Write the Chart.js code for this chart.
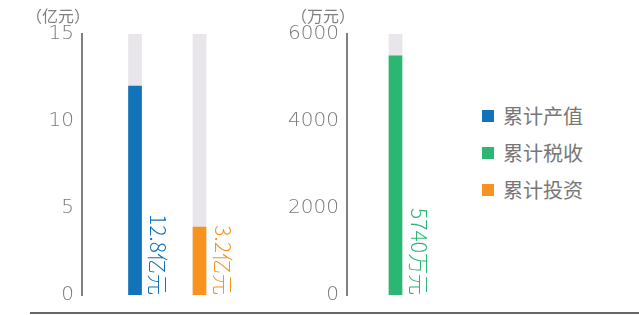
<!DOCTYPE html>
<html>
<head>
<meta charset="utf-8">
<script src="https://cdn.jsdelivr.net/npm/chart.js@4.4.1/dist/chart.umd.min.js"></script>
<style>
body { margin:0; width:639px; height:315px; background:#fff; position:relative; overflow:hidden; font-family:"Noto Sans CJK SC", sans-serif; }
canvas { position:absolute; top:0; }
#left { left:0; }
#right { left:265px; }
#legend { position:absolute; left:482px; top:97px; }
.item { height:37px; display:flex; align-items:center; font-size:20px; color:#777; }
.box { width:12px; height:12px; margin-right:9px; }
#baseline { position:absolute; left:30px; right:0; top:312px; height:2px; background:#666; }
</style>
</head>
<body>
<canvas id="left" width="260" height="315"></canvas>
<canvas id="right" width="200" height="315"></canvas>
<div id="legend"></div>
<div id="baseline"></div>
<script>
// left panel (亿元)
const leftCategories = ['累计产值', '累计投资'];
const leftValues = [12, 3.9];
const leftFull = [15, 15];
const leftLabels = ['12.8亿元', '3.2亿元'];
const leftTicks = [0, 5, 10, 15];

// right panel (万元)
const rightCategories = ['累计税收'];
const rightValues = [5500];
const rightFull = [6000];
const rightLabels = ['5740万元'];
const rightTicks = [0, 2000, 4000, 6000];

const legendNames = ['累计产值', '累计税收', '累计投资'];

const colorOf = { '累计产值': '#1272ba', '累计税收': '#2bb673', '累计投资': '#f7931e' };
const trackColor = '#e8e6ea';
const axisGrey = '#808080';

// rotated value text next to each bar
const barLabels = {
    id: 'barLabels',
    afterDatasetsDraw(chart, args, opts) {
        const ctx = chart.ctx;
        chart.getDatasetMeta(0).data.forEach((bar, i) => {
            ctx.save();
            ctx.translate(bar.x + bar.width / 2 + opts.gap, bar.base);
            ctx.rotate(Math.PI / 2);
            ctx.textAlign = 'right';
            ctx.textBaseline = 'bottom';
            ctx.fillStyle = opts.colors[i];
            ctx.font = '300 21px "Noto Sans CJK SC"';
            ctx.fillText(opts.labels[i], 0, 0);
            ctx.restore();
        });
    }
};

// unit text above the y axis
const unitLabel = {
    id: 'unitLabel',
    afterDraw(chart, args, opts) {
        const ctx = chart.ctx;
        ctx.save();
        ctx.font = '16px "Noto Sans CJK SC"';
        ctx.fillStyle = axisGrey;
        ctx.textAlign = 'right';
        ctx.textBaseline = 'middle';
        ctx.fillText(opts.text, chart.chartArea.left + 8, 16);
        ctx.restore();
    }
};

function makePanel(id, cats, values, full, labels, ticks, unit, xmin, xmax) {
    const colors = cats.map(c => colorOf[c]);
    return new Chart(document.getElementById(id), {
        type: 'bar',
        data: {
            datasets: [{
                data: values.map((v, i) => ({ x: i + 1, y: v })),
                backgroundColor: colors,
                barThickness: 13,
                grouped: false
            }, {
                data: full.map((v, i) => ({ x: i + 1, y: v })),
                backgroundColor: trackColor,
                barThickness: 13,
                grouped: false
            }]
        },
        options: {
            responsive: false,
            animation: false,
            layout: { padding: { top: 34, bottom: 17, left: 0, right: 0 } },
            plugins: {
                legend: { display: false },
                tooltip: { enabled: false },
                barLabels: { labels: labels, colors: colors, gap: 6 },
                unitLabel: { text: unit }
            },
            scales: {
                x: { type: 'linear', min: xmin, max: xmax, offset: false, display: false },
                y: {
                    min: ticks[0],
                    max: ticks[ticks.length - 1],
                    afterBuildTicks: s => { s.ticks = ticks.map(v => ({ value: v })); },
                    afterFit: s => { s.width = 82; },
                    grid: { display: false, drawTicks: false },
                    border: { display: true, color: axisGrey, width: 2 },
                    ticks: {
                        padding: 8,
                        color: '#7a7a7a',
                        callback: v => String(v),
                        font: { family: '"DejaVu Sans", "Noto Sans CJK SC"', size: 20, weight: '200' }
                    }
                }
            }
        },
        plugins: [barLabels, unitLabel]
    });
}

makePanel('left', leftCategories, leftValues, leftFull, leftLabels, leftTicks, '（亿元）', 0.178, 2.938);
makePanel('right', rightCategories, rightValues, rightFull, rightLabels, rightTicks, '（万元）', 0.25, 2.075);

const legend = document.getElementById('legend');
legendNames.forEach(name => {
    const row = document.createElement('div');
    row.className = 'item';
    row.innerHTML = '<span class="box" style="background:' + colorOf[name] + '"></span>' + name;
    legend.appendChild(row);
});
</script>
</body>
</html>
